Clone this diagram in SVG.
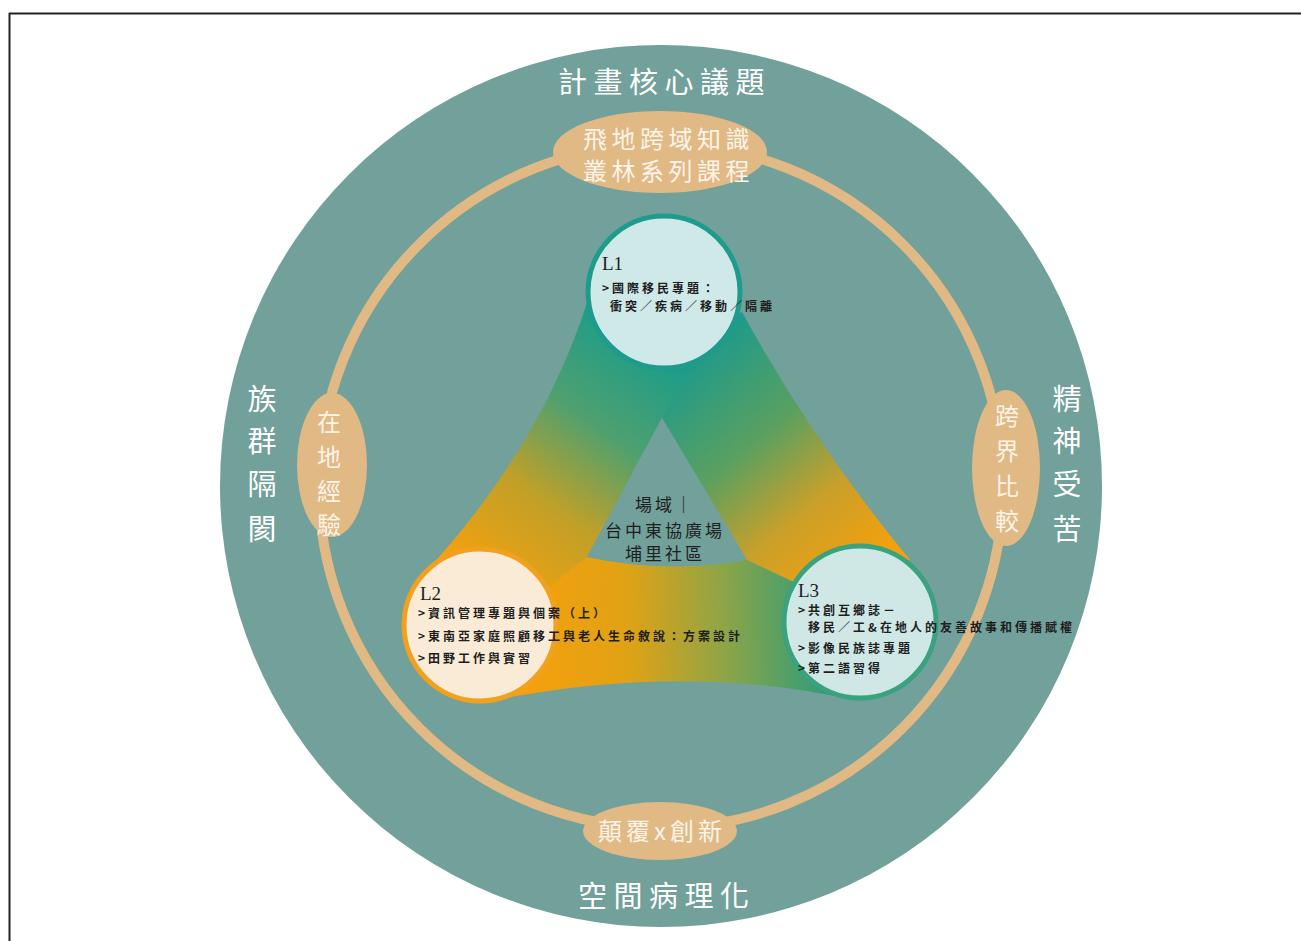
<svg xmlns="http://www.w3.org/2000/svg" width="1301" height="941" viewBox="0 0 1301 941">
<defs>
<style>
.big{font-family:"Noto Sans CJK TC","Noto Sans CJK SC",sans-serif;fill:#ffffff;font-size:29px;}
.cap{font-family:"Noto Sans CJK TC","Noto Sans CJK SC",sans-serif;fill:#fbf4e8;font-size:24px;}
.lv{font-family:"Liberation Serif",serif;fill:#1e1e1e;font-size:19px;}
.item{font-family:"Noto Sans CJK TC","Noto Sans CJK SC",sans-serif;fill:#1e1e1e;font-size:12px;font-weight:700;letter-spacing:3px;}
.ctr{font-family:"Noto Sans CJK TC","Noto Sans CJK SC",sans-serif;fill:#1e1e1e;font-size:17px;letter-spacing:3px;}
.tan{fill:#e0b985;}
</style>
<linearGradient id="gL" gradientUnits="userSpaceOnUse" x1="650" y1="330" x2="470" y2="580">
<stop offset="0" stop-color="#169c8c"/>
<stop offset="0.35" stop-color="#4ea070"/>
<stop offset="0.65" stop-color="#c0a028"/>
<stop offset="1" stop-color="#f6a10c"/>
</linearGradient>
<linearGradient id="gR" gradientUnits="userSpaceOnUse" x1="700" y1="340" x2="880" y2="560">
<stop offset="0" stop-color="#1a9a8e"/>
<stop offset="0.4" stop-color="#5aa060"/>
<stop offset="0.7" stop-color="#c9a02a"/>
<stop offset="1" stop-color="#f6a00c"/>
</linearGradient>
<linearGradient id="gB" gradientUnits="userSpaceOnUse" x1="520" y1="640" x2="830" y2="630">
<stop offset="0" stop-color="#f6a00c"/>
<stop offset="0.35" stop-color="#e0a215"/>
<stop offset="0.65" stop-color="#90a545"/>
<stop offset="1" stop-color="#2a9c7c"/>
</linearGradient>
</defs>

<rect x="0" y="0" width="1301" height="941" fill="#ffffff"/>
<g id="frame" stroke="#222" stroke-width="2" fill="none">
<line x1="9" y1="13.5" x2="1301" y2="13.5"/>
<line x1="9.5" y1="13" x2="9.5" y2="941"/>
</g>

<g id="outer-circle">
<circle cx="661" cy="486" r="441" fill="#72a09a"/>
<text class="big" x="558" y="93" letter-spacing="6.5">計畫核心議題</text>
<text class="big" x="578" y="907" letter-spacing="6.5">空間病理化</text>
<text class="big" text-anchor="middle"><tspan x="262" y="410">族</tspan><tspan x="262" y="452">群</tspan><tspan x="262" y="495">隔</tspan><tspan x="262" y="540">閡</tspan></text>
<text class="big" text-anchor="middle"><tspan x="1067" y="410">精</tspan><tspan x="1067" y="452">神</tspan><tspan x="1067" y="495">受</tspan><tspan x="1067" y="540">苦</tspan></text>
</g>

<g id="ring">
<circle cx="661" cy="486" r="342" fill="none" stroke="#e0b985" stroke-width="10"/>
</g>

<g id="node-top">
<ellipse class="tan" cx="660" cy="152" rx="107" ry="41"/>
<text class="cap" x="583" y="148" letter-spacing="4.5">飛地跨域知識</text>
<text class="cap" x="583" y="180" letter-spacing="4.5">叢林系列課程</text>
</g>
<g id="node-bottom">
<ellipse class="tan" cx="660" cy="831" rx="77" ry="29"/>
<text class="cap" x="598" y="840" letter-spacing="4">顛覆x創新</text>
</g>
<g id="node-left">
<ellipse class="tan" cx="332" cy="465" rx="35" ry="72"/>
<text class="cap" text-anchor="middle"><tspan x="329" y="431">在</tspan><tspan x="329" y="466">地</tspan><tspan x="329" y="500">經</tspan><tspan x="329" y="534">驗</tspan></text>
</g>
<g id="node-right">
<ellipse class="tan" cx="1006" cy="468" rx="34" ry="78"/>
<text class="cap" text-anchor="middle"><tspan x="1007" y="425">跨</tspan><tspan x="1007" y="460">界</tspan><tspan x="1007" y="495">比</tspan><tspan x="1007" y="530">較</tspan></text>
</g>

<g id="connectors">
<path id="band-L1-L3" d="M742,312 Q815,445 910,560 L800,600 L747,560 L662,418 L635,355 Z" fill="url(#gR)"/>
<path id="band-L2-L3" d="M525,570 L587,557 Q667,574 747,560 L800,585 L850,699 Q680,662 485,702 Z" fill="url(#gB)"/>
<path id="band-L1-L2" d="M588,300 Q540,450 420,578 L520,610 L587,557 L662,418 L706,338 Z" fill="url(#gL)"/>
</g>

<g id="node-field">
<path d="M662,418 L587,557 Q667,574 747,560 Z" fill="#72a09a"/>
<text class="ctr" x="635" y="511">場域｜</text>
<text class="ctr" x="605" y="537">台中東協廣場</text>
<text class="ctr" x="625" y="560">埔里社區</text>
</g>

<g id="node-L1">
<circle cx="664" cy="292" r="76" fill="#cfe8e8" stroke="#1d9b8d" stroke-width="5"/>
<text class="lv" x="602" y="270">L1</text>
<text class="item" x="602" y="293">&gt;國際移民專題：</text>
<text class="item" x="610" y="311">衝突／疾病／移動／隔離</text>
</g>

<g id="node-L2">
<circle cx="480" cy="625" r="76" fill="#f9ebd6" stroke="#f2a11f" stroke-width="5"/>
<text class="lv" x="420" y="600">L2</text>
<text class="item" x="418" y="618">&gt;資訊管理專題與個案（上）</text>
<text class="item" x="418" y="641">&gt;東南亞家庭照顧移工與老人生命敘說：方案設計</text>
<text class="item" x="418" y="663">&gt;田野工作與實習</text>
</g>

<g id="node-L3">
<circle cx="860" cy="622" r="76" fill="#cfe8e6" stroke="#3aa27e" stroke-width="5"/>
<text class="lv" x="798" y="597">L3</text>
<text class="item" x="798" y="615">&gt;共創互鄉誌－</text>
<text class="item" x="808" y="632">移民／工&amp;在地人的友善故事和傳播賦權</text>
<text class="item" x="798" y="653">&gt;影像民族誌專題</text>
<text class="item" x="798" y="673">&gt;第二語習得</text>
</g>
</svg>
